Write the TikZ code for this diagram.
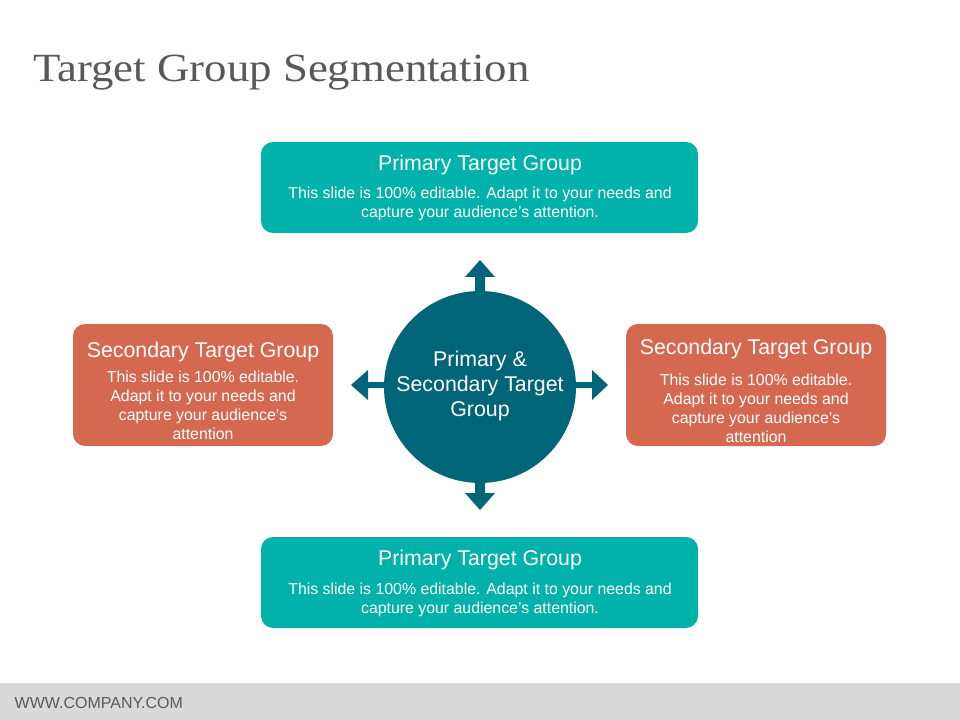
\documentclass[tikz,border=0pt]{standalone}
\usepackage{fontspec}
\setmainfont{Liberation Sans}
\newfontfamily\titlefont[FakeStretch=1.12]{Liberation Serif}
\definecolor{teal1}{HTML}{00B2A9}
\definecolor{orng}{HTML}{D4694F}
\definecolor{dteal}{HTML}{006677}
\definecolor{ttl}{HTML}{595959}
\begin{document}
\begin{tikzpicture}[x=0.75pt,y=-0.75pt,
  box/.style={rounded corners=9pt,inner sep=0pt,draw=none},
  hd/.style={text=white,font=\fontsize{16pt}{17pt}\selectfont},
  bd/.style={text=white,font=\fontsize{11.9pt}{14.2pt}\selectfont,align=center}]
\useasboundingbox (0,0) rectangle (960,720);
\fill[white] (0,0) rectangle (960,720);
\fill[black!15] (0,683) rectangle (960,720);
\node[anchor=west,text=ttl,font=\fontsize{12pt}{14pt}\selectfont] (foot) at (10,703) {WWW.COMPANY.COM};
\node[anchor=base west,text=ttl,font=\titlefont\fontsize{30pt}{34pt}\selectfont,inner sep=0pt] (title) at (33,82) {Target Group Segmentation};
% boxes
\fill[teal1,box] (261,142) rectangle (698,233);
\node[hd] (t1) at (480,165) {Primary Target Group};
\node[bd] (t2) at (480,204) {This slide is 100\% editable. Adapt it to your needs and\\capture your audience's attention.};
\fill[teal1,box] (261,537) rectangle (698,628);
\node[hd] (b1) at (480,560) {Primary Target Group};
\node[bd] (b2) at (480,600) {This slide is 100\% editable. Adapt it to your needs and\\capture your audience's attention.};
\fill[orng,box] (73,324) rectangle (333,446);
\node[hd] (l1) at (203,352) {Secondary Target Group};
\node[bd] (l2) at (203,405) {This slide is 100\% editable.\\Adapt it to your needs and\\capture your audience's\\attention};
\fill[orng,box] (626,324) rectangle (886,446);
\node[hd] (r1) at (756,349) {Secondary Target Group};
\node[bd] (r2) at (756,408) {This slide is 100\% editable.\\Adapt it to your needs and\\capture your audience's\\attention};
% arrows
\fill[dteal] (475,300) -- (475,277) -- (465,277) -- (480,260) -- (495,277) -- (485,277) -- (485,300) -- cycle;
\fill[dteal] (475,470) -- (475,493) -- (465,493) -- (480,510) -- (495,493) -- (485,493) -- (485,470) -- cycle;
\fill[dteal] (390,382) -- (368,382) -- (368,370) -- (351,385) -- (368,400) -- (368,388) -- (390,388) -- cycle;
\fill[dteal] (570,382) -- (592,382) -- (592,370) -- (608,385) -- (592,400) -- (592,388) -- (570,388) -- cycle;
\node[circle,fill=dteal,minimum size=144pt,inner sep=0pt] (c) at (480,387) {};
\node[hd,align=center,font=\fontsize{16pt}{19pt}\selectfont] (ct) at (480,386) {Primary \&\\Secondary Target\\Group};
\end{tikzpicture}
\end{document}
